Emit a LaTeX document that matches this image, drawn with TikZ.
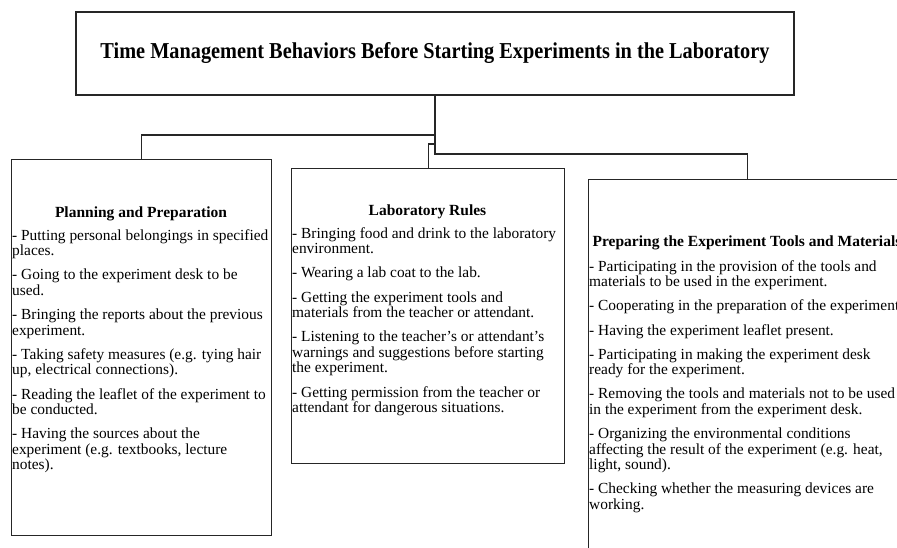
\documentclass[tikz,border=0pt]{standalone}
\usepackage{fontspec}
\setmainfont{Liberation Serif}
\newcommand{\toprule}{\rule{0pt}{12pt}}
\begin{document}
\begin{tikzpicture}[x=1pt,y=-1pt,
  boxstyle/.style={draw=black!85,line width=1.2pt,fill=none,inner sep=0pt},
  conn/.style={draw=black!85,line width=1.1pt},
  headstyle/.style={font=\fontsize{15.5}{16}\selectfont\bfseries,inner sep=0pt},
  bodystyle/.style={font=\fontsize{15.4}{15.6}\selectfont,align=left,inner sep=0pt,anchor=north west}]
\useasboundingbox (0,0) rectangle (897,548);
\clip (0,0) rectangle (897,548);
% title
\node[boxstyle,minimum width=718pt,minimum height=83pt,
  font=\fontsize{20.3}{24}\selectfont\bfseries] (title) at (435,53.5)
  {\scalebox{1}[1.12]{Time Management Behaviors Before Starting Experiments in the Laboratory}};
% boxes
\node[boxstyle,anchor=north west,minimum width=260pt,minimum height=376pt] (b1) at (11,159) {};
\node[boxstyle,anchor=north west,minimum width=273pt,minimum height=295pt] (b2) at (291,168) {};
\node[boxstyle,anchor=north west,minimum width=318pt,minimum height=400pt] (b3) at (588,179) {};
% connectors
\coordinate (j1) at (435,135);
\coordinate (j2) at (435,144);
\coordinate (j3) at (435,154);
\draw[conn] (title.south) -- (j3) -| (b3.north);
\draw[conn] (j1) -| (b1.north);
\draw[conn] (j2) -| (b2.north);
% box 1 text
\node[headstyle,anchor=base] (h1) at (141,218) {Planning and Preparation};
\node[bodystyle] (t1) at (12,228) {%
\toprule- Putting personal belongings in specified\\
places.\\[8.5pt]
- Going to the experiment desk to be\\
used.\\[8.5pt]
- Bringing the reports about the previous\\
experiment.\\[8.5pt]
- Taking safety measures (e.g. tying hair\\
up, electrical connections).\\[8.5pt]
- Reading the leaflet of the experiment to\\
be conducted.\\[8.5pt]
- Having the sources about the\\
experiment (e.g. textbooks, lecture\\
notes).};
% box 2 text
\node[headstyle,anchor=base] (h2) at (427.5,216) {Laboratory Rules};
\node[bodystyle] (t2) at (292,226) {%
\toprule- Bringing food and drink to the laboratory\\
environment.\\[8.5pt]
- Wearing a lab coat to the lab.\\[8.5pt]
- Getting the experiment tools and\\
materials from the teacher or attendant.\\[8.5pt]
- Listening to the teacher's or attendant's\\
warnings and suggestions before starting\\
the experiment.\\[8.5pt]
- Getting permission from the teacher or\\
attendant for dangerous situations.};
% box 3 text
\node[headstyle,anchor=base] (h3) at (747,247) {Preparing the Experiment Tools and Materials};
\node[bodystyle] (t3) at (589,259) {%
\toprule- Participating in the provision of the tools and\\
materials to be used in the experiment.\\[8.5pt]
- Cooperating in the preparation of the experiment.\\[8.5pt]
- Having the experiment leaflet present.\\[8.5pt]
- Participating in making the experiment desk\\
ready for the experiment.\\[8.5pt]
- Removing the tools and materials not to be used\\
in the experiment from the experiment desk.\\[8.5pt]
- Organizing the environmental conditions\\
affecting the result of the experiment (e.g. heat,\\
light, sound).\\[8.5pt]
- Checking whether the measuring devices are\\
working.};
\end{tikzpicture}
\end{document}
